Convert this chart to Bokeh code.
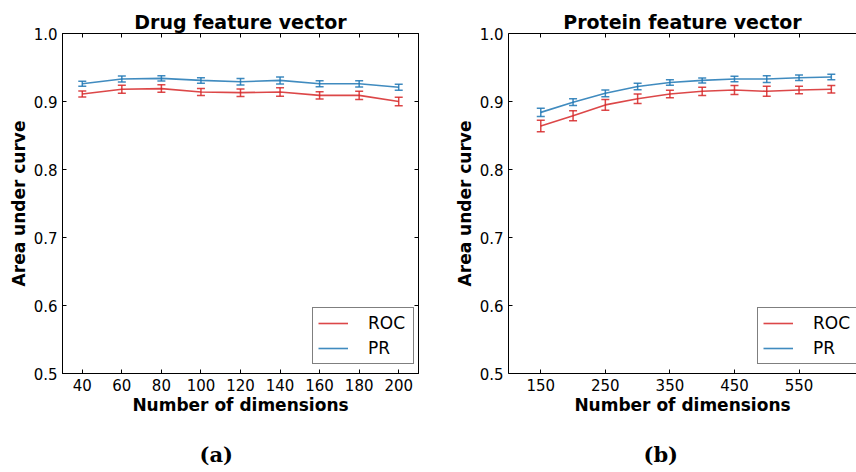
from bokeh.plotting import figure
from bokeh.models import (Range1d, LinearAxis, FixedTicker, PrintfTickFormatter,
                          ColumnDataSource, Whisker, TeeHead, Title)
from bokeh.layouts import row
from bokeh.embed import file_html
from bokeh.resources import INLINE

# ---- data ----
dims_drug = [40, 60, 80, 100, 120, 140, 160, 180, 200]
roc_drug = [0.911, 0.918, 0.919, 0.914, 0.913, 0.914, 0.909, 0.909, 0.900]
roc_drug_err = [0.0045, 0.006, 0.0055, 0.005, 0.0055, 0.0062, 0.0055, 0.0062, 0.0062]
pr_drug = [0.926, 0.933, 0.934, 0.931, 0.929, 0.931, 0.926, 0.926, 0.921]
pr_drug_err = [0.0037, 0.0044, 0.004, 0.004, 0.0048, 0.0052, 0.0044, 0.0046, 0.0044]

dims_protein = [150, 200, 250, 300, 350, 400, 450, 500, 550, 600]
roc_protein = [0.864, 0.879, 0.895, 0.904, 0.911, 0.915, 0.917, 0.915, 0.917, 0.918]
roc_protein_err = [0.0086, 0.0074, 0.008, 0.007, 0.0056, 0.006, 0.0066, 0.0074, 0.0056, 0.0056]
pr_protein = [0.884, 0.899, 0.912, 0.922, 0.928, 0.931, 0.933, 0.933, 0.935, 0.936]
pr_protein_err = [0.006, 0.005, 0.005, 0.0047, 0.004, 0.0037, 0.004, 0.005, 0.004, 0.004]

drug_xticks = [40, 60, 80, 100, 120, 140, 160, 180, 200]
protein_xticks = [150, 250, 350, 450, 550]
yticks = [0.5, 0.6, 0.7, 0.8, 0.9, 1.0]

RED = "#d62728"
BLUE = "#1f77b4"
FONT = "DejaVu Sans"


def style_axis(ax, labels=True):
    ax.axis_line_color = "black"
    ax.major_tick_line_color = "black"
    ax.major_tick_in = 4
    ax.major_tick_out = 0
    ax.minor_tick_line_color = None
    ax.major_label_text_font = FONT
    if labels:
        ax.major_label_text_color = "black"
        ax.major_label_text_font_size = "15px"
        ax.major_label_standoff = 5
    else:
        ax.major_label_text_color = None
        ax.major_label_text_font_size = "1px"
        ax.major_label_standoff = 0
    ax.axis_label_text_font = FONT
    ax.axis_label_text_font_style = "bold"
    ax.axis_label_text_font_size = "17px"
    ax.axis_label_text_color = "black"


def make_panel(title, dims, roc, roc_err, pr, pr_err, xr, xticks, frame_w,
               bl, br, right_axis, caption, cap_off, leg_x):
    p = figure(width=bl + frame_w + br, height=472, frame_width=frame_w, frame_height=340,
               x_range=Range1d(*xr), y_range=Range1d(0.5, 1.0),
               output_backend="svg", toolbar_location=None,
               min_border_left=bl, min_border_right=br, min_border_top=33,
               min_border_bottom=99)
    p.title.text = title
    p.title.align = "center"
    p.title.text_font = FONT
    p.title.text_font_size = "19px"
    p.title.text_font_style = "bold"
    p.title.text_color = "black"
    p.title.standoff = 2
    p.xgrid.visible = False
    p.ygrid.visible = False
    p.outline_line_color = "black" if right_axis else None
    p.background_fill_color = "white"
    p.border_fill_color = "white"

    p.xaxis.ticker = FixedTicker(ticks=xticks)
    p.yaxis.ticker = FixedTicker(ticks=yticks)
    p.yaxis.formatter = PrintfTickFormatter(format="%.1f")
    p.xaxis.axis_label = "Number of dimensions"
    p.yaxis.axis_label = "Area under curve"
    style_axis(p.xaxis[0])
    style_axis(p.yaxis[0])
    p.xaxis.axis_label_standoff = 1
    p.yaxis.axis_label_standoff = 2

    top = LinearAxis(ticker=FixedTicker(ticks=xticks))
    style_axis(top, labels=False)
    p.add_layout(top, "above")
    if right_axis:
        rt = LinearAxis(ticker=FixedTicker(ticks=yticks))
        style_axis(rt, labels=False)
        p.add_layout(rt, "right")

    for vals, errs, col, name in [(roc, roc_err, RED, "ROC"), (pr, pr_err, BLUE, "PR")]:
        src = ColumnDataSource(dict(x=dims, y=vals,
                                    upper=[v + e for v, e in zip(vals, errs)],
                                    lower=[v - e for v, e in zip(vals, errs)]))
        p.line("x", "y", source=src, line_color=col, line_width=1.6, line_alpha=0.85,
               legend_label=name)
        w = Whisker(source=src, base="x", upper="upper", lower="lower",
                    line_color=col, line_width=1.5, line_alpha=0.85,
                    upper_head=TeeHead(size=8, line_color=col, line_width=1.5, line_alpha=0.85),
                    lower_head=TeeHead(size=8, line_color=col, line_width=1.5, line_alpha=0.85))
        p.add_layout(w)

    lg = p.legend[0]
    lg.location = (leg_x, 9)
    lg.border_line_color = "black"
    lg.border_line_width = 1
    lg.background_fill_color = "white"
    lg.background_fill_alpha = 1
    lg.label_text_font = FONT
    lg.label_text_font_size = "17px"
    lg.label_text_color = "black"
    lg.glyph_width = 30
    lg.glyph_height = 20
    lg.label_height = 20
    lg.label_width = 40
    lg.label_standoff = 20
    lg.spacing = 5
    lg.padding = 5
    lg.margin = 0

    cap = Title(text=caption, align="left", offset=cap_off, standoff=45,
                text_font="DejaVu Serif", text_font_style="bold",
                text_font_size="21px", text_color="black")
    p.add_layout(cap, "below")
    return p


p1 = make_panel("Drug feature vector", dims_drug, roc_drug, roc_drug_err, pr_drug, pr_drug_err,
                (30, 210), drug_xticks, 356, 62, 22, True, "(a)", 137, 250)
p2 = make_panel("Protein feature vector", dims_protein, roc_protein, roc_protein_err,
                pr_protein, pr_protein_err, (100, 639), protein_xticks, 348, 68, 0, False,
                "(b)", 135, 249)

layout = row(p1, p2)
open("out.html", "w").write(file_html(layout, INLINE))
